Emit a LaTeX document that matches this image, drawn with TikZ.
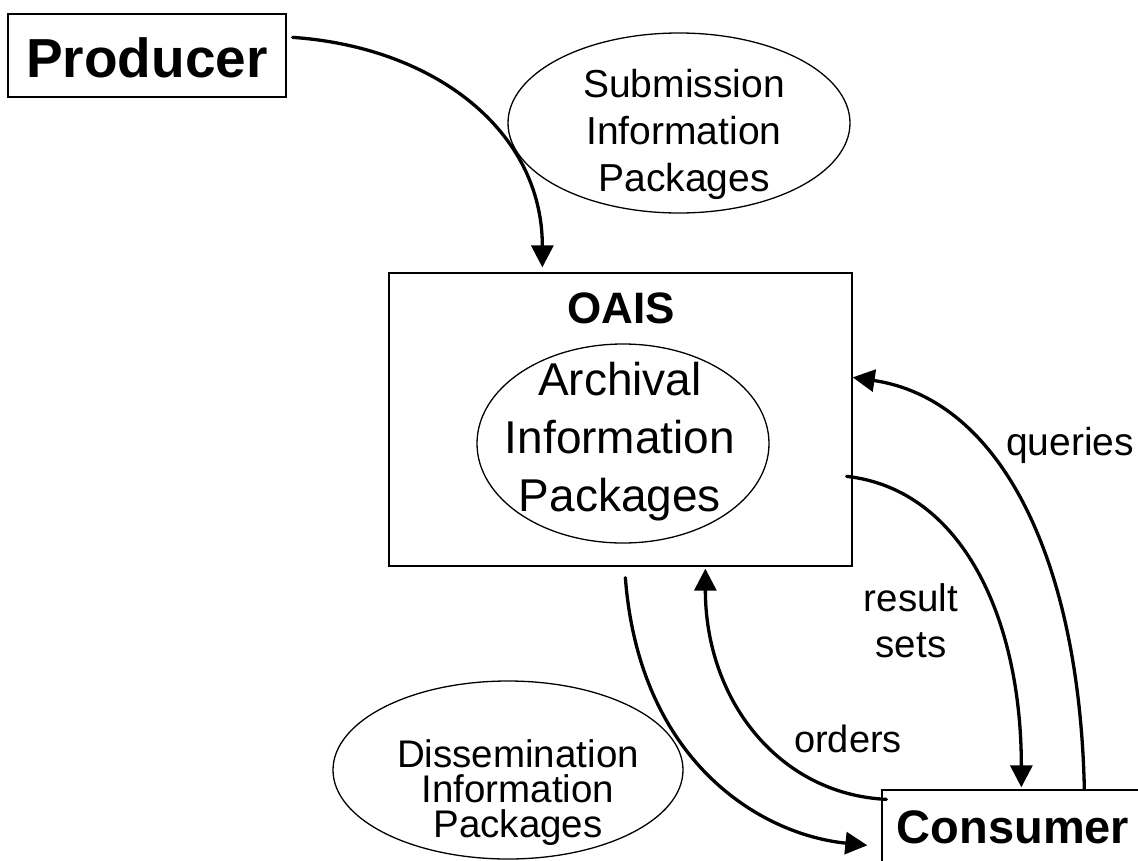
\documentclass[tikz,border=0pt]{standalone}
\usepackage{fontspec}
\setmainfont{Liberation Sans}
\usetikzlibrary{arrows.meta,shapes.geometric,calc}
\newcommand{\linestack}[2]{\vtop{\baselineskip=#1\lineskiplimit=-100pt\halign{\hfil##\hfil\cr#2\crcr}}}
\tikzset{
  boxnode/.style={draw, rectangle, line width=1.3pt, inner sep=0pt},
  ellnode/.style={draw, ellipse, line width=1.3pt, inner sep=0pt},
  txt/.style={inner sep=0pt, anchor=base},
  flow/.style={line width=3.3pt, line cap=round, -{Triangle[length=22pt,width=22pt]}},
}
\begin{document}
\begin{tikzpicture}[x=1pt,y=-1pt]
\useasboundingbox (0,0) rectangle (1138,860);
\clip (0,0) rectangle (1138,860);
% boxes
\node[boxnode, minimum width=278pt, minimum height=83pt, text height=43pt, text depth=0pt,
      font=\fontsize{55}{60}\selectfont\bfseries] (prod) at (147,55.5) {Producer};
\node[boxnode, minimum width=463pt, minimum height=293pt] (oais) at (620.5,419.5) {};
\node[txt, font=\fontsize{44}{50}\selectfont\bfseries] (oaistitle) at (621,323) {OAIS};
\node[boxnode, minimum width=262pt, minimum height=90pt, text height=33.7pt, text depth=17.7pt,
      font=\fontsize{47}{52}\selectfont\bfseries] (cons) at (1013,835) {Consumer};
% ellipses
\node[ellnode, minimum width=342pt, minimum height=180pt] (sip) at (679,123) {};
\node[txt, font=\fontsize{39}{47}\selectfont] (siptext) at (684,97)
  {\linestack{47pt}{Submission\cr Information\cr Packages}};
\node[ellnode, minimum width=292pt, minimum height=199pt] (aip) at (623,443.5) {};
\node[txt, font=\fontsize{46}{58}\selectfont] (aiptext) at (620,395)
  {\linestack{58pt}{Archival\cr Information\cr Packages}};
\node[ellnode, minimum width=350pt, minimum height=178pt] (dip) at (508,770) {};
\node[txt, font=\fontsize{38.5}{35}\selectfont] (diptext) at (518,767)
  {\linestack{35pt}{Dissemination\cr Information\cr Packages}};
% labels
\node[txt, font=\fontsize{39}{46}\selectfont] (qlabel) at (1070,455) {queries};
\node[txt, font=\fontsize{38.5}{46}\selectfont] (rlabel) at (911,611) {\linestack{46pt}{result\cr sets}};
\node[txt, font=\fontsize{38}{46}\selectfont] (olabel) at (848,752) {orders};
% connectors
\draw[flow] ($(prod.north east)+(6,24)$) .. controls +(143,10) and +(0,-136) .. ($(oais.north west)+(154,-5)$);
\draw[flow] ($(cons.north west)+(203,0)$) .. controls +(-5,-230) and +(148,22) .. ($(oais.north east)+(0,105)$);
\draw[flow] ($(oais.north east)+(-6,204)$) .. controls +(116,13) and +(0,-168) .. ($(cons.north west)+(140,-2)$);
\draw[flow] ($(cons.north west)+(5,10)$) .. controls +(-107,-5) and +(0,132) .. ($(oais.south west)+(317,2)$);
\draw[flow] ($(oais.south west)+(237,11)$) .. controls +(14,183) and +(-108,-11) .. ($(cons.north west)+(-14,56)$);
\end{tikzpicture}
\end{document}
